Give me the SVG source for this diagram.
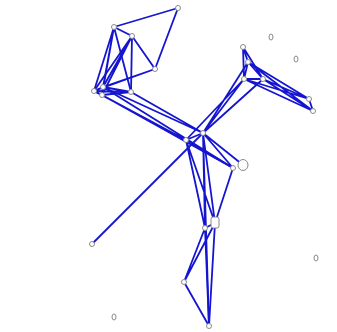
<svg xmlns="http://www.w3.org/2000/svg" width="337" height="332" viewBox="0 0 337 332">
<style>
.e{stroke:#1515d0;stroke-width:1.8;fill:none;stroke-linecap:round}
.n{fill:#fff;stroke:#8a8a8a;stroke-width:1}
</style>
<rect width="337" height="332" fill="#fff"/>
<g id="edges" class="e">
<path d="M178 8L114 27M178 8L155 69"/>
<path d="M114 27L132 36M114 27L94 91M114 27L103 87M114 27L102 95M114 27L131 92"/>
<path d="M132 36L155 69M132 36L94 91M132 36L103 87M132 36L102 95M132 36L131 92"/>
<path d="M155 69L103 87M155 69L94 91"/>
<path d="M94 91L103 87M94 91L102 95M103 87L102 95M103 87L131 92M102 95L131 92M94 91L131 92"/>
<path d="M94 91L186 140M103 87L203 133M102 95L186 140M102 95L233 168M131 92L203 133M103 87L233 168"/>
<path d="M186 140L203 133M186 140L233 168M203 133L233 168M203 133L243 165"/>
<path d="M203 133L244 79M203 133L263 79M186 140L244 79M203 133L248 62"/>
<path d="M243 47L248 62M243 47L244 79M243 47L263 79M248 62L244 79M248 62L263 79M244 79L263 79"/>
<path d="M248 62L309 99M244 79L309 99M244 79L313 111M263 79L309 99M263 79L313 111M309 99L313 111M248 62L313 111"/>
<path d="M203 133L92 244"/>
<path d="M186 140L205 228M186 140L215 223M203 133L215 223M203 133L205 228M233 168L215 223M203 133L209 326"/>
<path d="M205 228L215 223M205 228L184 282M215 223L184 282M184 282L209 326M215 223L209 326M205 228L209 326"/>
</g>
<g id="nodes" class="n">
<circle id="n1" cx="178" cy="8" r="2.5"/>
<circle id="n2" cx="114" cy="27" r="2.5"/>
<circle id="n3" cx="132" cy="36" r="2.5"/>
<circle id="n4" cx="155" cy="69" r="2.5"/>
<circle id="n5" cx="94" cy="91" r="2.5"/>
<circle id="n6" cx="103" cy="87" r="2.5"/>
<circle id="n7" cx="102" cy="95" r="2.5"/>
<circle id="n8" cx="131" cy="92" r="2.5"/>
<circle id="n9" cx="186" cy="140" r="2.5"/>
<circle id="n10" cx="203" cy="133" r="2.5"/>
<circle id="n11" cx="243" cy="47" r="2.5"/>
<circle id="n12" cx="248" cy="62" r="2.5"/>
<circle id="n13" cx="244" cy="79" r="2.5"/>
<circle id="n14" cx="263" cy="79" r="2.5"/>
<circle id="n15" cx="309" cy="99" r="2.5"/>
<circle id="n16" cx="313" cy="111" r="2.5"/>
<circle id="n17" cx="233" cy="168" r="2.5"/>
<ellipse id="n18" cx="243" cy="165" rx="5" ry="5.5"/>
<rect id="n19" x="211" y="217" width="8" height="11" rx="2"/>
<circle id="n20" cx="205" cy="228" r="2.5"/>
<circle id="n21" cx="184" cy="282" r="2.5"/>
<circle id="n22" cx="209" cy="326" r="2.5"/>
<circle id="n23" cx="92" cy="244" r="2.5"/>
<ellipse id="n24" cx="271" cy="37" rx="2" ry="3"/>
<ellipse id="n25" cx="296" cy="59" rx="2" ry="3"/>
<ellipse id="n26" cx="316" cy="258" rx="2" ry="3"/>
<ellipse id="n27" cx="114" cy="317" rx="2" ry="3"/>
</g>
</svg>
